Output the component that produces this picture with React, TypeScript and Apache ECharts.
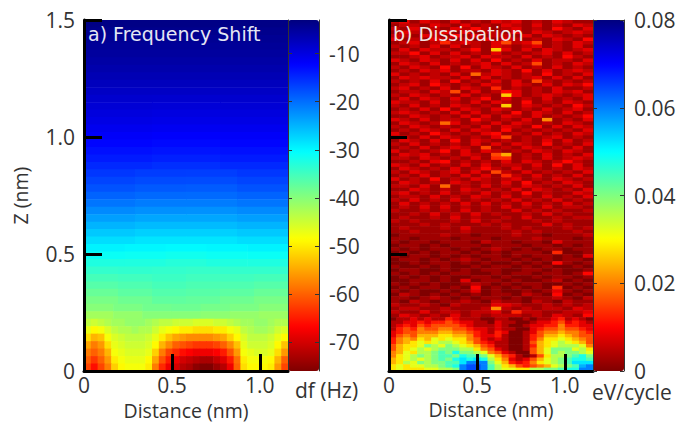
import React, { useEffect, useRef } from "react";
import * as echarts from "echarts";

const jetStops = ["#7f0000", "#ff0000", "#ff8000", "#ffff00", "#80ff80", "#00ffff", "#0080ff", "#0000ff", "#00007f"];

const zTicks = [0, 0.5, 1.0, 1.5];
const distanceTicks = [0, 0.5, 1.0];
const dfTicks = [-70, -60, -50, -40, -30, -20, -10];
const dissipationTicks = [0, 0.02, 0.04, 0.06, 0.08];
const dfRange = [-76, -3];
const dissipationRange = [0, 0.08];
const zMax = 1.5;
const distanceMax = 1.16;

// top row first; a row may hold fewer cells across the same width
const frequencyRows: number[][] = [
  [-3.5], [-4], [-4.4], [-4.8], [-5.2], [-5.7], [-6.2], [-6.8], [-7.4], [-8],
  [-8.6, -8.7, -8.6], [-9.1, -9.3, -9.1], [-9.7, -9.9, -9.7], [-10.3, -10.5, -10.3],
  [-11, -11.2, -11], [-11.7, -11.9, -11.7], [-12.4, -12.7, -12.4], [-13.2, -13.5, -13.2],
  [-14, -14.3, -14], [-15, -15.4, -15], [-16, -16.4, -16.5, -16],
  [-17, -17.4, -17.5, -17], [-18, -18.5, -18.6, -18], [-19.2, -19.6, -19.7, -19.2],
  [-20.5, -21, -21, -20.5], [-22, -22.4, -22.5, -22], [-23.5, -24, -24, -23.5],
  [-25, -25.5, -25.5, -25], [-26.5, -27, -27, -26.5], [-28, -28.5, -28.5, -28],
  [-29.5, -29.8, -30, -29.8, -29.5], [-31, -31.2, -31.5, -31.2, -31], [-32.5, -32.6, -33, -32.6, -32.5],
  [-34, -33.8, -34, -34.2, -34, -34], [-35.3, -35, -34.6, -35, -35, -35.3], [-36.5, -36, -35.4, -35.8, -36, -36.5],
  [-37.8, -37, -36.3, -36.6, -37, -37.8], [-39, -38.2, -37.2, -37.5, -38.2, -39],
  [-40, -39.2, -38.5, -38.2, -38.8, -39.2, -40], [-42, -41, -40, -40, -40.5, -41, -41.5],
  [-44, -45, -44, -43, -42, -42, -41, -41, -41, -42, -43, -44, -44, -45, -45, -45, -46, -46, -46, -45, -45, -44, -43, -42, -42, -41, -41, -42, -43, -43],
  [-47, -49, -48, -46, -44, -43, -43, -42, -43, -43, -45, -47, -48, -49, -50, -50, -51, -51, -51, -50, -50, -48, -47, -44, -43, -42, -42, -43, -45, -46],
  [-51, -54, -53, -48, -46, -45, -44, -44, -44, -45, -47, -50, -53, -55, -56, -57, -57, -57, -57, -56, -55, -52, -49, -46, -44, -44, -44, -45, -47, -49],
  [-55, -58, -56, -51, -47, -46, -45, -45, -45, -46, -49, -54, -57, -60, -61, -62, -63, -63, -63, -62, -60, -57, -53, -47, -45, -45, -45, -46, -49, -53],
  [-58, -60, -58, -54, -48, -47, -46, -46, -46, -47, -52, -58, -62, -64, -66, -67, -68, -68, -68, -67, -65, -61, -56, -48, -47, -46, -46, -47, -51, -56],
  [-60, -63, -60, -56, -50, -48, -47, -47, -47, -49, -55, -61, -65, -68, -70, -71, -72, -73, -73, -71, -69, -65, -59, -50, -48, -48, -48, -49, -54, -60],
  [-62, -66, -62, -58, -52, -49, -48, -48, -48, -50, -58, -64, -68, -70, -72, -73, -75, -76, -76, -74, -72, -68, -60, -51, -49, -49, -49, -50, -56, -62],
];

// one base-36 digit per cell; top row first
const dissipationUpperStep = 0.0026;
const dissipationUpperRows: string[] = [
  "23132131213231213211",
  "12213213121321312132",
  "21312132421231214213",
  "13212313122131321232",
  "22132141312213132121",
  "31213212131321213214",
  "12312523213623612132",
  "21213131213212312131",
  "1313221241a313132123",
  "22413131213121231312",
  "11231223132213121421",
  "32132131314121312213",
  "13213121231312612132",
  "21321414132131213121",
  "12132312213214131232",
  "31212131723212141213",
  "13232213131212313131",
  "21213141213131621212",
  "12314212132132131324",
  "23121313215121213112",
  "12213261312431213231",
  "21321213121a31232123",
  "13132131241312131213",
  "32213121313214121321",
  "21312132121a13212142",
  "12131413213212131231",
  "23212131312141321312",
  "11321213131321312124",
  "32131221421213181213",
  "13212731213132121321",
  "21321212131321413132",
  "12132131321412121213",
  "31214212134121312132",
  "22131321213612123121",
  "13213141321212131312",
  "21312121313132141213",
  "12131232161213212131",
  "31212413132121321321",
  "13231213216912131213",
  "22132121315512131232",
  "11213412121313212421",
  "32131213131221314131",
  "13212131242131212132",
  "21321231316213121213",
  "12131213131521312131",
  "31214121321231213212",
  "13212132121314121321",
  "22131712131213212131",
  "11321213212131321213",
  "23121312131214121132",
  "12213121321312131213",
  "21312131212131213121",
  "13121213131213121312",
  "12131312121312131221",
  "21121213121131212112",
  "11213121312112131211",
  "12112131211213112122",
  "21211121312111212111",
  "11121211121211131211",
  "12111213111212111212",
  "11211112111121211121",
  "01111211011121101112",
  "11011101110111211101",
  "10110111021101103111",
  "01101011101110110101",
  "10101101012101011011",
  "01010110101011105001",
  "10110101011010110103",
  "01101012101101010110",
  "00101101010010104101",
  "10010100101101010010",
  "01100101011001101001",
  "10101011001011011014",
  "01010100110100101101",
  "00110103011010012010",
  "10101001210101100101",
  "01011010401010105010",
  "10100101301001013101",
  "02101010101102104010",
  "11012101011010112102",
  "10210112102110210211",
  "21121021113321121212",
  "12211211128212122132",
  "21131221223152211223",
  "13212131212221213214",
];

const dissipationLowerStep = 0.004;
const dissipationLowerRows: string[] = [
  "01121211321110011001011231210",
  "11223233432211021100122342321",
  "12324344443211121001223353322",
  "13435445544322121100234454432",
  "23445556655432132001245565543",
  "24546667766532231001346676544",
  "35657687877542121001357787654",
  "35678789987643211001467898764",
  "46778a98a98764311001367899985",
  "4678989aaa9975421001468aaa897",
  "568799abacaa98542100468a9aa98",
  "5789a9abbacbba86431014799abca",
  "678989abacdcdc9752124689abccb",
  "6798a9aabbdfffa863235789abddd",
  "7878899abcfggfb9764345689abef",
  "787778899afggfb9887799aabccff",
];
const dissipationSplitZ = 0.23;

function frequencyCells() {
  const h = zMax / frequencyRows.length;
  const cells: number[][] = [];
  frequencyRows.forEach((row, r) => {
    const w = distanceMax / row.length;
    row.forEach((v, c) => cells.push([c * w, zMax - (r + 1) * h, v, (c + 1) * w, zMax - r * h]));
  });
  return cells;
}

function digitRows(rows: string[], step: number, zTop: number, zBottom: number, cells: number[][]) {
  const h = (zTop - zBottom) / rows.length;
  rows.forEach((row, r) => {
    const w = distanceMax / row.length;
    [...row].forEach((ch, c) =>
      cells.push([c * w, zTop - (r + 1) * h, parseInt(ch, 36) * step, (c + 1) * w, zTop - r * h]),
    );
  });
}

function dissipationCells() {
  const cells: number[][] = [];
  digitRows(dissipationUpperRows, dissipationUpperStep, zMax, dissipationSplitZ, cells);
  digitRows(dissipationLowerRows, dissipationLowerStep, dissipationSplitZ, 0, cells);
  return cells;
}

const renderCell = (_p: any, api: any) => {
  const a = api.coord([api.value(0), api.value(4)]);
  const b = api.coord([api.value(3), api.value(1)]);
  return {
    type: "rect",
    shape: { x: a[0], y: a[1], width: b[0] - a[0] + 0.6, height: b[1] - a[1] + 0.6 },
    style: { fill: api.visual("color") },
  };
};

const sans = "'Open Sans', sans-serif";
const tickText = { color: "#333", fontSize: 21, fontFamily: sans };
const nameText = { color: "#333", fontSize: 19.5, fontFamily: sans };

const plotX = (gridIndex: number) => ({
  type: "value", gridIndex, min: 0, max: distanceMax, z: 10, position: "bottom",
  name: "Distance (nm)", nameLocation: "middle",
  nameGap: gridIndex === 0 ? 29 : 26,
  nameTextStyle: nameText,
  splitLine: { show: false },
  axisLine: { show: true, onZero: false, lineStyle: { color: "#000", width: 3 } },
  axisTick: { show: true, inside: true, length: 17, customValues: distanceTicks, lineStyle: { color: "#000", width: 3 } },
  axisLabel: { ...tickText, margin: 3, customValues: distanceTicks, formatter: (v: number) => (v === 0 ? "0" : v.toFixed(1)) },
});
const plotY = (gridIndex: number, labels: boolean) => ({
  type: "value", gridIndex, min: 0, max: zMax, z: 10, position: "left",
  name: labels ? "Z (nm)" : "", nameLocation: "middle", nameGap: 54, nameTextStyle: nameText,
  splitLine: { show: false },
  axisLine: { show: true, onZero: false, lineStyle: { color: "#000", width: 3 } },
  axisTick: { show: true, inside: true, length: 18, customValues: zTicks, lineStyle: { color: "#000", width: 3 } },
  axisLabel: { show: labels, ...tickText, margin: 9, padding: [3, 0, 0, 0], customValues: zTicks, formatter: (v: number) => (v === 0 ? "0" : v.toFixed(1)) },
});
const barX = (gridIndex: number) => ({ type: "value", gridIndex, min: 0, max: 1, show: false });
const barY = (gridIndex: number, range: number[], ticks: number[], fmt: (v: number) => string, position: string) => ({
  type: "value", gridIndex, min: range[0], max: range[1], z: 10, position,
  splitLine: { show: false },
  axisLine: { show: true, onZero: false, lineStyle: { color: "#333", width: 1 } },
  axisTick: { show: true, inside: true, length: 4, customValues: ticks, lineStyle: { color: "#333", width: 1 } },
  axisLabel: { show: position === "right", ...tickText, margin: 10, customValues: ticks, formatter: fmt },
});

export default function App() {
  const ref = useRef<HTMLDivElement>(null);
  useEffect(() => {
    const chart = echarts.init(ref.current!, null, { renderer: "svg" });
    const dfFmt = (v: number) => String(v);
    const dFmt = (v: number) => (v === 0 ? "0" : v.toFixed(2));
    chart.setOption({
      animation: false,
      backgroundColor: "#fff",
      grid: [
        { left: 84, top: 20, width: 204, height: 351, outerBoundsMode: "none" },
        { left: 288, top: 20, width: 31, height: 351, outerBoundsMode: "none" },
        { left: 389, top: 20, width: 204, height: 351, outerBoundsMode: "none" },
        { left: 593, top: 20, width: 31, height: 351, outerBoundsMode: "none" },
      ],
      xAxis: [plotX(0), barX(1), plotX(2), barX(3)],
      yAxis: [
        plotY(0, true),
        barY(1, dfRange, dfTicks, dfFmt, "right"),
        barY(1, dfRange, dfTicks, dfFmt, "left"),
        plotY(2, false),
        barY(3, dissipationRange, dissipationTicks, dFmt, "right"),
        barY(3, dissipationRange, dissipationTicks, dFmt, "left"),
      ],
      visualMap: [
        {
          type: "continuous", seriesIndex: 0, dimension: 2, min: dfRange[0], max: dfRange[1],
          left: 288, top: 20, itemWidth: 31, itemHeight: 351, padding: 0, calculable: false,
          showLabel: false, text: null, realtime: false, hoverLink: false, z: 4,
          inRange: { color: jetStops },
        },
        {
          type: "continuous", seriesIndex: 1, dimension: 2, min: dissipationRange[0], max: dissipationRange[1],
          left: 593, top: 20, itemWidth: 31, itemHeight: 351, padding: 0, calculable: false,
          showLabel: false, text: null, realtime: false, hoverLink: false, z: 4,
          inRange: { color: jetStops },
        },
      ],
      series: [
        { type: "custom", xAxisIndex: 0, yAxisIndex: 0, renderItem: renderCell, data: frequencyCells(), encode: { x: 0, y: 1 }, clip: true, silent: true },
        { type: "custom", xAxisIndex: 2, yAxisIndex: 3, renderItem: renderCell, data: dissipationCells(), encode: { x: 0, y: 1 }, clip: true, silent: true },
      ],
      graphic: [
        { type: "text", left: 88, top: 24, z: 20, style: { text: "a) Frequency Shift", fill: "#e4e6f4", fontSize: 19, fontFamily: "'DejaVu Sans'" } },
        { type: "text", left: 393, top: 24, z: 20, style: { text: "b) Dissipation", fill: "#f2e4e0", fontSize: 19, fontFamily: "'DejaVu Sans'" } },
        { type: "text", left: 295, top: 379, z: 20, style: { text: "df (Hz)", fill: "#333", fontSize: 21, fontFamily: sans } },
        { type: "text", left: 592, top: 381, z: 20, style: { text: "eV/cycle", fill: "#333", fontSize: 21, fontFamily: sans } },
      ],
    });
    return () => chart.dispose();
  }, []);
  return <div ref={ref} style={{ position: "fixed", left: 0, top: 0, width: 678, height: 422 }} />;
}
